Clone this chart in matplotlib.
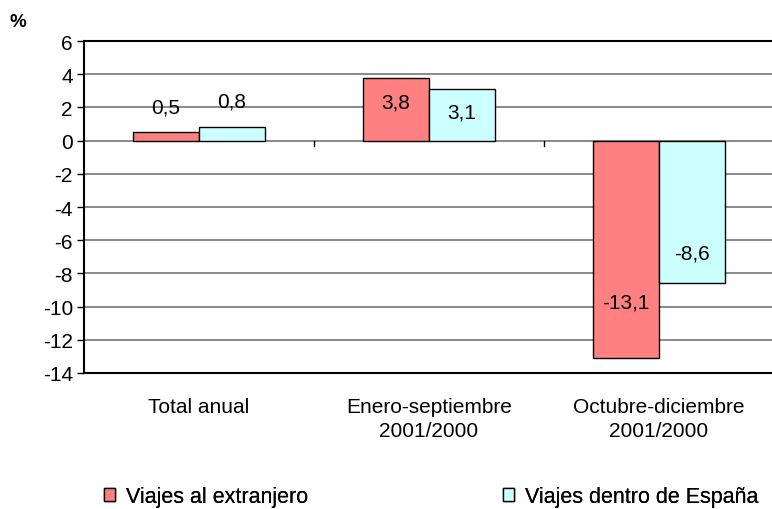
import matplotlib.pyplot as plt
import numpy as np
from matplotlib.patches import Patch

plt.rcParams["font.family"] = ["Liberation Sans", "DejaVu Sans"]

categories = ["Total anual", "Enero-septiembre\n2001/2000", "Octubre-diciembre\n2001/2000"]
extranjero = [0.5, 3.8, -13.1]
espana = [0.8, 3.1, -8.6]
label_extranjero = ["0,5", "3,8", "-13,1"]
label_espana = ["0,8", "3,1", "-8,6"]
# where the value labels sit (data units)
label_y_extranjero = [2.0, 2.35, -9.75]
label_y_espana = [2.4, 1.7, -6.75]
series_names = ["Viajes al extranjero", "Viajes dentro de España"]

red = "#FF8080"
cyan = "#CCFFFF"
grid_grey = "#808080"
fs = 15


def main() -> None:
    fig = plt.figure(figsize=(7.72, 5.10), dpi=100)
    ax = fig.add_axes([0.1088, 0.2667, 0.8938, 0.6509])

    x = np.arange(len(categories))
    w = 0.287
    ax.bar(x - w / 2, extranjero, w, color=red, edgecolor="black", lw=1.0, zorder=3)
    ax.bar(x + w / 2, espana, w, color=cyan, edgecolor="black", lw=1.0, zorder=3)

    for xi, ly, t in zip(x, label_y_extranjero, label_extranjero):
        ax.text(xi - w / 2, ly, t, ha="center", va="center", fontsize=fs, zorder=4)
    for xi, ly, t in zip(x, label_y_espana, label_espana):
        ax.text(xi + w / 2, ly, t, ha="center", va="center", fontsize=fs, zorder=4)

    ax.set_xlim(-0.5, 2.5)
    ax.set_ylim(-14, 6)
    ax.set_yticks(np.arange(-14, 7, 2))
    ax.set_yticklabels([str(v) for v in range(-14, 7, 2)], fontsize=fs)
    for v in range(-12, 6, 2):
        ax.axhline(v, color=grid_grey, lw=1.3, zorder=1)

    # category axis sits at zero, ticks between groups
    for b in [0.5, 1.5]:
        ax.plot([b, b], [0, -0.3], color="black", lw=1.0, zorder=2, clip_on=False)

    ax.set_xticks(x)
    ax.set_xticklabels(categories, fontsize=fs, linespacing=1.35)
    ax.tick_params(axis="x", length=0, pad=17)
    ax.tick_params(axis="y", length=5, width=1.0, pad=3)

    for side in ["left", "top", "bottom"]:
        ax.spines[side].set_color("black")
        ax.spines[side].set_linewidth(1.5)
    ax.spines["right"].set_visible(False)

    fig.text(0.012, 0.955, "%", fontsize=13.5, fontweight="bold", ha="left", va="center")

    colors = [red, cyan]
    anchors = [104 / 772, 503 / 772]
    for name, c, ax_x in zip(series_names, colors, anchors):
        h = Patch(facecolor=c, edgecolor="black", lw=1.0)
        leg = fig.legend([h], [name], loc="center left", bbox_to_anchor=(ax_x, 0.024),
                         frameon=False, fontsize=fs + 0.5, handlelength=0.5,
                         handleheight=0.5, handletextpad=0.5, borderpad=0,
                         borderaxespad=0)
        fig.add_artist(leg)

    fig.savefig("out.png", dpi=100)


if __name__ == "__main__":
    main()
